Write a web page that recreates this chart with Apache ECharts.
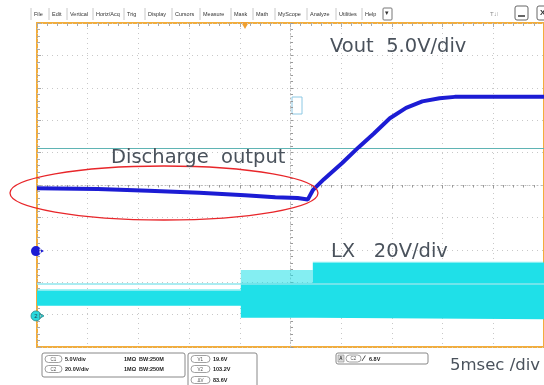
<!DOCTYPE html>
<html>
<head>
<meta charset="utf-8">
<script src="https://cdn.jsdelivr.net/npm/echarts@6/dist/echarts.min.js"></script>
<style>
html, body { margin: 0; padding: 0; background: #fff; }
#scope { width: 544px; height: 385px; }
</style>
</head>
<body>
<div id="scope"></div>
<script>
// time base 5 ms/div, 10 divs across, trigger at 0
var timeMs = [-25, -19, -14, -9, -4.5, -1.5, 0.7, 1.7, 2.2, 3.3, 5.1, 6.7, 8.2, 9.8, 11.4, 13.0, 14.7, 16.2, 25];
// C1 Vout (V)
var voutV = [9.7, 9.6, 9.3, 9.0, 8.6, 8.3, 8.2, 7.95, 9.4, 11.1, 13.6, 16.0, 18.1, 20.5, 22.1, 23.1, 23.6, 23.8, 23.8];

// C2 LX switching envelope (V)
var lxTime = [-25, -4.9, -4.9, 2.2, 2.2, 25];
var lxLow = [6.2, 6.2, -1.2, -1.2, -1.2, -2.0];
var lxSolidTop = [15.5, 15.5, 20.4, 20.4, 32.7, 32.7];
var lxPeak = [16.5, 16.5, 28.4, 28.4, 33.5, 33.5];

// cursors on C2 (V)
var cursorV1 = 19.6;
var cursorV2 = 103.2;

// channel settings: volts per div, ground position in divs
var ch1Scale = 5, ch1Offset = -2.04;
var ch2Scale = 20, ch2Offset = -4.04;

var menuItems = ['File', 'Edit', 'Vertical', 'Horiz/Acq', 'Trig', 'Display', 'Cursors', 'Measure', 'Mask', 'Math', 'MyScope', 'Analyze', 'Utilities', 'Help'];
var menuX = [34, 52, 70, 96, 127, 148, 175, 203, 234, 256, 278, 310, 339, 365];

function ch1(v) { return v / ch1Scale + ch1Offset; }
function ch2(v) { return v / ch2Scale + ch2Offset; }

var voutData = timeMs.map(function (t, i) { return [t, ch1(voutV[i])]; });
var lxBase = lxTime.map(function (t, i) { return [t, ch2(lxLow[i])]; });

var pin = 'path://M5,0A5,5,0,1,0,5,10A5,5,0,1,0,5,0ZM8.5,2.5L13,5L8.5,7.5Z';
var textColor = '#4a525c';
var cyan = '#1fe0e8';

// LX drawn as a filled band between the envelopes
function bandPoints(api, upper, lower) {
    var pts = [];
    for (var i = 0; i < lxTime.length; i++) pts.push(api.coord([lxTime[i], ch2(upper[i])]));
    for (var j = lxTime.length - 1; j >= 0; j--) pts.push(api.coord([lxTime[j], ch2(lower[j])]));
    return pts;
}
function renderLx(params, api) {
    if (params.dataIndex !== 0) return null;
    return {
        type: 'group',
        children: [
            { type: 'polygon', shape: { points: bandPoints(api, lxPeak, lxSolidTop) }, style: { fill: cyan, opacity: 0.55 } },
            { type: 'polygon', shape: { points: bandPoints(api, lxSolidTop, lxLow) }, style: { fill: cyan } }
        ]
    };
}

var graphics = [];
// menu bar
menuItems.forEach(function (m, i) {
    graphics.push({
        type: 'text', left: menuX[i], top: 11,
        style: { text: m, fontSize: 5.5, fontFamily: 'Liberation Sans', fill: '#333' }
    });
    graphics.push({
        type: 'line', shape: { x1: menuX[i] - 3, y1: 8, x2: menuX[i] - 3, y2: 20 },
        style: { stroke: '#c8c8c8', lineWidth: 1 }
    });
});
graphics.push(
    { type: 'rect', shape: { x: 383, y: 8, width: 9, height: 12, r: 1 }, style: { fill: '#fff', stroke: '#777', lineWidth: 1 } },
    { type: 'text', left: 385, top: 10, style: { text: '▾', fontSize: 7, fill: '#333' } },
    { type: 'text', left: 490, top: 11, style: { text: 'T↓⁞', fontSize: 6, fill: '#888', fontFamily: 'Liberation Sans' } },
    { type: 'rect', shape: { x: 515, y: 6, width: 13, height: 14, r: 2 }, style: { fill: '#fff', stroke: '#666', lineWidth: 1 } },
    { type: 'line', shape: { x1: 518, y1: 16, x2: 525, y2: 16 }, style: { stroke: '#333', lineWidth: 1.5 } },
    { type: 'rect', shape: { x: 537, y: 6, width: 13, height: 14, r: 2 }, style: { fill: '#fff', stroke: '#666', lineWidth: 1 } },
    { type: 'text', left: 540, top: 9, style: { text: 'X', fontSize: 8, fill: '#333', fontWeight: 'bold' } },
    // trigger position marker on top border
    { type: 'polygon', shape: { points: [[241, 22], [249, 22], [245, 29]] }, style: { fill: '#f0a030' } },
    // small trigger level box
    { type: 'rect', shape: { x: 292, y: 97, width: 10, height: 17 }, style: { fill: 'none', stroke: '#8cc8e4', lineWidth: 1 } },
    // annotation ellipse
    { type: 'ellipse', shape: { cx: 164, cy: 193, rx: 154, ry: 27 }, style: { fill: 'none', stroke: '#e8262a', lineWidth: 1.3 }, z: 100 },
    // annotation labels
    { type: 'text', left: 330, top: 37, style: { text: 'Vout  5.0V/div', fontSize: 19.5, fontFamily: 'DejaVu Sans', fill: textColor }, z: 100 },
    { type: 'text', left: 111, top: 148, style: { text: 'Discharge  output', fontSize: 19.5, fontFamily: 'DejaVu Sans', fill: textColor }, z: 100 },
    { type: 'text', left: 331, top: 242, style: { text: 'LX   20V/div', fontSize: 19.5, fontFamily: 'DejaVu Sans', fill: textColor }, z: 100 },
    { type: 'text', left: 450, top: 357, style: { text: '5msec /div', fontSize: 16.5, fontFamily: 'DejaVu Sans', fill: textColor }, z: 100 }
);

// readout boxes
function pill(x, y, w, label) {
    graphics.push({ type: 'rect', shape: { x: x, y: y, width: w, height: 7, r: 3.5 }, style: { fill: '#fff', stroke: '#888', lineWidth: 0.8 } });
    graphics.push({ type: 'text', left: x + w / 2 - 3, top: y + 1.3, style: { text: label, fontSize: 4.5, fill: '#555', fontFamily: 'Liberation Sans' } });
}
function readout(x, y, txt) {
    graphics.push({ type: 'text', left: x, top: y, style: { text: txt, fontSize: 5.5, fill: '#222', fontWeight: 'bold', fontFamily: 'Liberation Sans' } });
}
graphics.push({ type: 'rect', shape: { x: 42, y: 353, width: 143, height: 24, r: 2 }, style: { fill: '#fff', stroke: '#888', lineWidth: 1 } });
pill(45, 355.5, 17, 'C1'); readout(65, 356, '5.0V/div'); readout(124, 356, '1MΩ  BW:250M');
pill(45, 365.5, 17, 'C2'); readout(65, 366, '20.0V/div'); readout(124, 366, '1MΩ  BW:250M');
graphics.push({ type: 'rect', shape: { x: 188, y: 353, width: 69, height: 40, r: 2 }, style: { fill: '#fff', stroke: '#888', lineWidth: 1 } });
pill(191, 355.5, 19, 'V1'); readout(213, 356, '19.6V');
pill(191, 365.5, 19, 'V2'); readout(213, 366, '103.2V');
pill(191, 376.5, 19, 'ΔV'); readout(213, 377, '83.6V');
graphics.push({ type: 'rect', shape: { x: 336, y: 353, width: 92, height: 11, r: 2 }, style: { fill: '#fff', stroke: '#888', lineWidth: 1 } });
graphics.push({ type: 'rect', shape: { x: 338, y: 355, width: 6, height: 7 }, style: { fill: '#ddd', stroke: '#888', lineWidth: 0.6 } });
graphics.push({ type: 'text', left: 339.3, top: 356.3, style: { text: 'A', fontSize: 4.5, fill: '#333', fontWeight: 'bold' } });
pill(346, 355, 15, 'C2');
graphics.push({ type: 'text', left: 363, top: 354.5, style: { text: '∕', fontSize: 8, fill: '#222', fontWeight: 'bold' } });
readout(369, 356, '6.8V');

var chart = echarts.init(document.getElementById('scope'));
var option = {
    animation: false,
    backgroundColor: '#fff',
    grid: {
        show: true, left: 37, top: 23, width: 516, height: 324,
        borderColor: '#f2ad3c', borderWidth: 2, backgroundColor: '#fff', z: 0
    },
    xAxis: [
        {
            type: 'value', min: -25, max: 25, interval: 5,
            axisLine: { onZero: true, lineStyle: { color: '#bbb', type: [1, 3] } },
            axisTick: { length: 3, lineStyle: { color: '#999' } },
            minorTick: { show: true, splitNumber: 5, length: 2.5, lineStyle: { color: '#999' } },
            axisLabel: { show: false },
            splitLine: { show: true, lineStyle: { color: '#c8c8c8', type: [1, 4] } }
        },
        {
            type: 'value', position: 'top', min: -25, max: 25, interval: 5,
            axisLine: { show: false, onZero: false },
            axisTick: { inside: true, length: 4, lineStyle: { color: '#aaa' } },
            minorTick: { show: true, splitNumber: 5, length: 3, lineStyle: { color: '#aaa' } },
            axisLabel: { show: false }, splitLine: { show: false }
        }
    ],
    yAxis: [
        {
            type: 'value', position: 'left', min: -5, max: 5, interval: 1,
            axisLine: { show: false, onZero: false },
            axisTick: { inside: true, length: 4, lineStyle: { color: '#aaa' } },
            minorTick: { show: true, splitNumber: 5, length: 3, lineStyle: { color: '#aaa' } },
            axisLabel: { show: false },
            splitLine: { show: true, lineStyle: { color: '#c8c8c8', type: [1, 4] } }
        },
        {
            type: 'value', position: 'right', min: -5, max: 5, interval: 1,
            axisLine: { onZero: true, lineStyle: { color: '#bbb', type: [1, 3] } },
            axisTick: { length: 3, lineStyle: { color: '#999' } },
            minorTick: { show: true, splitNumber: 5, length: 2.5, lineStyle: { color: '#999' } },
            axisLabel: { show: false }, splitLine: { show: false }
        }
    ],
    series: [
        {
            name: 'LX', type: 'custom', renderItem: renderLx, data: lxBase, z: 3, silent: true
        },
        {
            name: 'LX ref', type: 'line', data: lxBase, symbol: 'none', lineStyle: { width: 0, opacity: 0 }, z: 2,
            markLine: {
                silent: true, symbol: 'none', label: { show: false },
                data: [
                    { yAxis: ch2(cursorV2), lineStyle: { color: '#5fb4b4', width: 1, type: 'solid' } },
                    { yAxis: ch2(cursorV1), lineStyle: { color: '#8ee6ec', width: 1.5, type: 'solid' } }
                ]
            },
            markPoint: {
                silent: true,
                data: [{
                    coord: [-25, ch2Offset], symbol: pin, symbolSize: [13, 10], symbolOffset: [0.5, 0],
                    itemStyle: { color: '#29d8dc', borderColor: '#2a8a8c', borderWidth: 0.8 },
                    label: { show: true, formatter: '2', fontSize: 6, color: '#245', offset: [-1.5, 0] }
                }]
            }
        },
        {
            name: 'Vout', type: 'line', data: voutData, symbol: 'none', z: 5,
            lineStyle: { color: '#1c1cd4', width: 4 },
            markPoint: {
                silent: true,
                data: [{
                    coord: [-25, ch1Offset], symbol: pin, symbolSize: [13, 10], symbolOffset: [0.5, 0],
                    itemStyle: { color: '#1c1cd4' }, label: { show: false }
                }]
            }
        }
    ],
    graphic: graphics
};
chart.setOption(option);
</script>
</body>
</html>
